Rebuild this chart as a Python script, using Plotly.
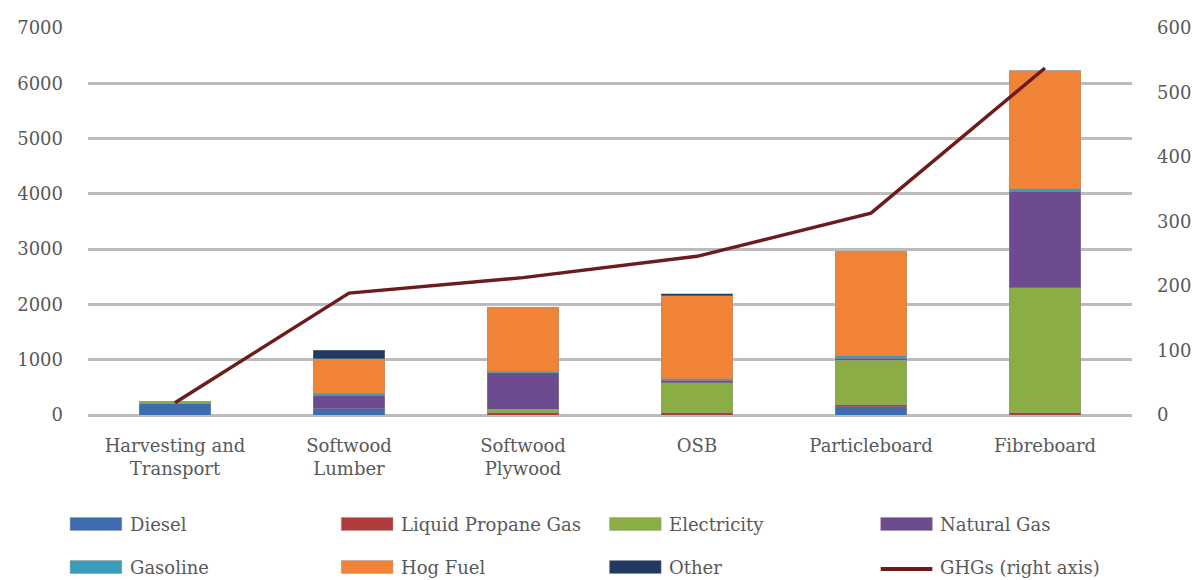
import plotly.graph_objects as go

# Product categories (x axis tick labels)
categories = ["Harvesting and<br>Transport", "Softwood<br>Lumber", "Softwood<br>Plywood",
              "OSB", "Particleboard", "Fibreboard"]

# Energy use by source, stacked bottom to top (left axis)
diesel      = [210, 110,    0,    0,  150,    0]
propane     = [  0,   0,   40,   40,   40,   40]
electricity = [ 40,   0,   60,  540,  800, 2260]
natural_gas = [  0, 250,  660,   50,   40, 1750]
gasoline    = [  0,  30,   30,   30,   40,   40]
hog_fuel    = [  0, 630, 1160, 1500, 1890, 2140]
other       = [  0, 150,    0,   30,    0,    0]

# Greenhouse gas emissions (right axis)
ghgs = [19, 189, 213, 246, 313, 538]

series_names = ["Diesel", "Liquid Propane Gas", "Electricity", "Natural Gas",
                "Gasoline", "Hog Fuel", "Other"]
series_values = [diesel, propane, electricity, natural_gas, gasoline, hog_fuel, other]
series_colors = ["#3D6CB0", "#B13A3A", "#8AAE45", "#6C4C8E",
                 "#3A9CB8", "#F18336", "#203A63"]
line_name = "GHGs (right axis)"
line_color = "#6B1C1C"

left_ticks = [0, 1000, 2000, 3000, 4000, 5000, 6000, 7000]
right_ticks = [0, 100, 200, 300, 400, 500, 600]

FONT = "DejaVu Serif"
TXT = "#595959"

fig = go.Figure()
for name, vals, col in zip(series_names, series_values, series_colors):
    fig.add_trace(go.Bar(
        x=categories, y=vals, name=name, marker_color=col,
        marker_line=dict(width=0.6, color="rgba(150,150,150,0.7)"),
        showlegend=False,
    ))

fig.add_trace(go.Scatter(
    x=categories, y=ghgs, name=line_name, mode="lines", yaxis="y2",
    line=dict(color=line_color, width=3.5), showlegend=False,
))

# Plot area geometry (pixels) used for placing the legend block
W, H = 1203, 580
ML, MR, MT, MB = 88, 64, 28, 165
PW, PH = W - ML - MR, H - MT - MB


def px_x(x):
    return (x - ML) / PW


def px_y(y):
    return (H - MB - y) / PH


# Legend: two rows of four entries
legend_names = series_names + [line_name]
legend_colors = series_colors + [line_color]
col_x = [70, 343, 613, 886]
row_y = [524, 567]
sw_w, sw_h = 52, 13
shapes, annotations = [], []
for i, (name, col) in enumerate(zip(legend_names, legend_colors)):
    r, c = divmod(i, 4)
    x0 = col_x[c]
    yc = row_y[r]
    if name == line_name:
        shapes.append(dict(type="line", xref="paper", yref="paper",
                           x0=px_x(x0), x1=px_x(x0 + sw_w),
                           y0=px_y(yc + 2), y1=px_y(yc + 2),
                           line=dict(color=col, width=4)))
    else:
        shapes.append(dict(type="rect", xref="paper", yref="paper",
                           x0=px_x(x0), x1=px_x(x0 + sw_w),
                           y0=px_y(yc - sw_h / 2), y1=px_y(yc + sw_h / 2),
                           fillcolor=col, line=dict(color="rgba(140,140,140,0.6)", width=0.6)))
    annotations.append(dict(xref="paper", yref="paper", x=px_x(x0 + sw_w + 6), y=px_y(yc),
                            text=name, showarrow=False, xanchor="left", yanchor="middle",
                            font=dict(family=FONT, size=18, color=TXT)))

fig.update_layout(
    width=W, height=H,
    margin=dict(l=ML, r=MR, t=MT, b=MB, pad=0),
    barmode="stack", bargap=0.59,
    plot_bgcolor="white", paper_bgcolor="white",
    font=dict(family=FONT, size=18, color=TXT),
    showlegend=False,
    shapes=shapes, annotations=annotations,
    xaxis=dict(showgrid=False, showline=False, zeroline=False,
               ticks="", ticklabelstandoff=18, tickfont=dict(size=18, color=TXT)),
    yaxis=dict(range=[0, 7000], tickvals=left_ticks, showgrid=True,
               gridcolor="#BCBCBC", gridwidth=2.5, zeroline=True, zerolinecolor="#BCBCBC",
               zerolinewidth=2.5, showline=False, ticks="", ticklabelstandoff=24,
               tickfont=dict(size=18, color=TXT)),
    yaxis2=dict(range=[0, 600], tickvals=right_ticks, overlaying="y", side="right",
                showgrid=False, zeroline=False, showline=False, ticks="",
                ticklabelstandoff=24, tickfont=dict(size=18, color=TXT)),
)

fig.write_html("out.html")
